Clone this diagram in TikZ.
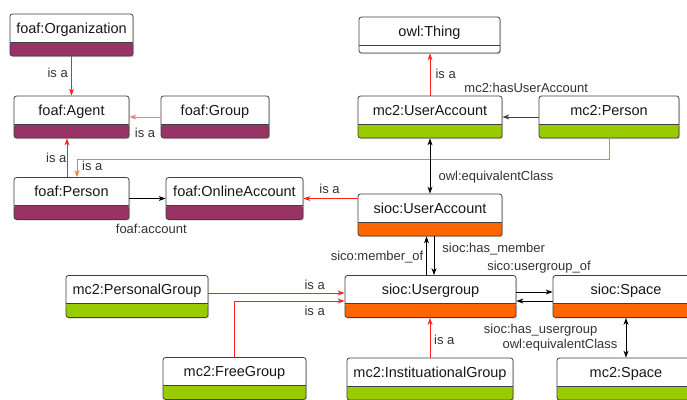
\documentclass[tikz,border=0pt]{standalone}
\usepackage{fontspec}
\setmainfont{Liberation Sans}
\usetikzlibrary{arrows.meta,shadows}
\definecolor{foafc}{HTML}{993366}
\definecolor{mctwoc}{HTML}{99CC00}
\definecolor{siocc}{HTML}{FF6600}
\definecolor{edgec}{HTML}{404040}
\definecolor{isac}{HTML}{FF2020}
\definecolor{personc}{HTML}{FF7A30}
\definecolor{textc}{HTML}{333333}

\begin{document}
\begin{tikzpicture}[x=1pt,y=-1pt,line width=0.8pt,
  cls/.style={draw=edgec, fill=white, rounded corners=2.5pt, minimum height=42pt,
    text height=10pt, text depth=14pt, inner ysep=0pt, text=black!90,
    font=\fontsize{14.5}{16}\selectfont,
    drop shadow={opacity=0.35, shadow xshift=1pt, shadow yshift=-1.2pt}},
  bar/.style 2 args={path picture={
    \fill[#1] (path picture bounding box.south west) rectangle ([yshift=#2]path picture bounding box.south east);
    \draw[edgec] ([yshift=#2]path picture bounding box.south west) -- ([yshift=#2]path picture bounding box.south east);}},
  foaf/.style={cls, bar={foafc}{14pt}},
  mctwo/.style={cls, bar={mctwoc}{14pt}},
  sioc/.style={cls, bar={siocc}{14pt}},
  lbl/.style={font=\fontsize{13}{15}\selectfont, text=textc, inner sep=0pt},
  prop/.style={draw=black, -{Stealth[length=7pt,width=5pt]}},
  both/.style={draw=black, {Stealth[length=7pt,width=5pt]}-{Stealth[length=7pt,width=5pt]}},
  isa/.style={draw=isac, -{Stealth[length=7pt,width=5pt]}},
]
\useasboundingbox (0,0) rectangle (687,399);
\fill[white] (0,0) rectangle (687,399);

% foaf classes
\node[foaf, minimum width=123pt] (org) at (71.5,35) {foaf:Organization};
\node[foaf, minimum width=115pt] (agent) at (71.5,117) {foaf:Agent};
\node[foaf, minimum width=108pt] (group) at (215,117) {foaf:Group};
\node[foaf, minimum width=115pt] (person) at (71.5,198.5) {foaf:Person};
\node[foaf, minimum width=137pt] (online) at (234.5,198.5) {foaf:OnlineAccount};

% owl, mc2 and sioc classes
\node[cls, bar={white}{8pt}, minimum height=36pt, text depth=8pt, minimum width=141pt] (thing) at (429.5,35) {owl:Thing};
\node[mctwo, minimum width=144pt] (mcuser) at (430,117) {mc2:UserAccount};
\node[mctwo, minimum width=140pt] (mcperson) at (609,117) {mc2:Person};
\node[sioc, minimum width=144pt] (siocuser) at (430,215) {sioc:UserAccount};
\node[sioc, minimum width=171pt] (usergroup) at (430.5,296.5) {sioc:Usergroup};
\node[sioc, minimum width=146pt] (space) at (626,296.5) {sioc:Space};
\node[mctwo, minimum width=138pt] (mcspace) at (626,379) {mc2:Space};
\node[mctwo, minimum width=142pt] (personal) at (137,296.5) {mc2:PersonalGroup};
\node[mctwo, minimum width=143pt] (free) at (234.5,378.5) {mc2:FreeGroup};
\node[mctwo, minimum width=166pt] (inst) at (430,379) {mc2:InstituationalGroup};

% is a
\draw[isa] (org) -- (agent);
\draw[isa, draw=isac!60] (group) -- (agent);
\draw[isa] ([xshift=-4.5pt]person.north) -- ([xshift=-4.5pt]agent.south);
\coordinate (bend) at (77,159);
\draw[draw=personc, -{Stealth[length=7pt,width=5pt]}] (mcperson.south) |- (bend) -- (bend |- person.north);
\draw[isa] (siocuser.west |- online.east) -- (online.east);
\draw[isa] (mcuser.north) -- (mcuser.north |- thing.south);
\draw[isa] ([yshift=3.5pt]personal.east) -- ([yshift=3.5pt]usergroup.west);
\draw[isa] (free.north) |- ([yshift=-4.5pt]usergroup.west);
\draw[isa] (inst.north) -- (inst.north |- usergroup.south);

% properties
\draw[prop] (person) -- (online);
\draw[prop, draw=edgec] (mcperson) -- (mcuser);
\draw[both] (mcuser) -- (siocuser);
\draw[prop] ([xshift=-4pt]usergroup.north) -- ([xshift=-4pt]usergroup.north |- siocuser.south);
\draw[prop] ([xshift=4pt]siocuser.south) -- ([xshift=4pt]siocuser.south |- usergroup.north);
\draw[prop] ([yshift=4.5pt]usergroup.east) -- ([yshift=4.5pt]space.west);
\draw[prop] ([yshift=-4.5pt]space.west) -- ([yshift=-4.5pt]usergroup.east);
\draw[both] (space) -- (mcspace);

% labels
\node[lbl] (isaorg) at (57.7,73.3) {is a};
\node[lbl] (isagroup) at (145,132.7) {is a};
\node[lbl] (isaperson) at (56.3,158) {is a};
\node[lbl] (isamcperson) at (92.3,165.7) {is a};
\node[lbl] (account) at (151.3,229) {foaf:account};
\node[lbl] (isathing) at (445.7,73.7) {is a};
\node[lbl] (hasaccount) at (526.2,87.7) {mc2:hasUserAccount};
\node[lbl] (equivuser) at (496,177) {owl:equivalentClass};
\node[lbl] (isaonline) at (329.5,188.7) {is a};
\node[lbl] (hasmember) at (493.7,249) {sioc:has\_member};
\node[lbl] (memberof) at (377,256.7) {sico:member\_of};
\node[lbl] (groupof) at (539,267) {sico:usergroup\_of};
\node[lbl] (hasgroup) at (540.7,330.5) {sioc:has\_usergroup};
\node[lbl] (equivspace) at (560,345) {owl:equivalentClass};
\node[lbl] (isainst) at (444.3,339.5) {is a};
\node[lbl] (isapersonal) at (314.7,284.7) {is a};
\node[lbl] (isafree) at (314.7,311) {is a};
\end{tikzpicture}
\end{document}
